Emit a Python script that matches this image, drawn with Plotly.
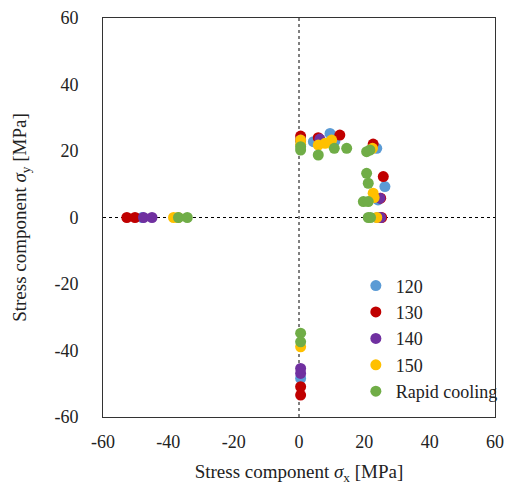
import plotly.graph_objects as go

series_names = ["120", "130", "140", "150", "Rapid cooling"]
colors = ["#5B9BD5", "#C00000", "#7030A0", "#FFC000", "#70AD47"]

x_120 = [-48.0, 0.5, 0.5, 4.4, 9.5, 11.0, 23.8, 26.3, 24.2, 24.0]
y_120 = [0.0, -48.4, 23.0, 22.8, 25.3, 23.0, 20.8, 9.3, 5.3, 0.0]

x_130 = [-52.7, -50.2, 0.5, 0.5, 0.5, 5.9, 12.5, 22.7, 25.8, 25.0, 25.3]
y_130 = [0.0, 0.0, -50.9, -53.4, 24.5, 24.0, 24.8, 22.1, 12.3, 5.8, 0.0]

x_140 = [-47.6, -45.0, 0.5, 0.5, 0.5, 6.4, 24.8, 25.0]
y_140 = [0.0, 0.0, -45.4, -46.9, 23.3, 23.6, 5.8, 0.0]

x_150 = [-38.4, -37.0, 0.5, 0.5, 0.5, 5.9, 8.0, 10.0, 22.5, 22.7, 23.0, 23.8]
y_150 = [0.0, 0.0, -38.9, 23.3, 22.0, 21.8, 22.3, 23.3, 20.8, 7.3, 6.0, 0.0]

x_rc = [-36.9, -34.2, 0.5, 0.5, 0.5, 0.5, 5.9, 10.8, 14.6, 20.7, 21.7, 20.7, 21.2, 19.7, 21.2, 21.2, 21.9]
y_rc = [0.0, 0.0, -34.8, -37.4, 21.3, 20.3, 18.8, 20.8, 20.8, 19.8, 20.3, 13.3, 10.3, 4.8, 4.8, 0.0, 0.0]

xs = [x_120, x_130, x_140, x_150, x_rc]
ys = [y_120, y_130, y_140, y_150, y_rc]

tick_vals = [-60, -40, -20, 0, 20, 40, 60]
tick_text = ["-60", "-40", "-20", "0", "20", "40", "60"]

FONT = "Liberation Serif, Times New Roman, serif"

fig = go.Figure()
for name, c, x, y in zip(series_names, colors, xs, ys):
    fig.add_trace(go.Scatter(x=x, y=y, mode="markers", name=name,
                             marker=dict(color=c, size=11, line=dict(width=0))))

fig.add_shape(type="line", x0=0, x1=0, y0=-60, y1=60, xref="x", yref="y",
              line=dict(color="black", width=1, dash="dot"), layer="below")
fig.add_shape(type="line", x0=-60, x1=60, y0=0, y1=0, xref="x", yref="y",
              line=dict(color="black", width=1, dash="dot"), layer="below")

axis_common = dict(range=[-60, 60], tickvals=tick_vals, ticktext=tick_text,
                   showgrid=False, zeroline=False, automargin=False,
                   showline=True, mirror=True, linecolor="#333333", linewidth=1,
                   ticks="", tickfont=dict(family=FONT, size=18, color="#222"))

fig.update_xaxes(**axis_common, ticklabelstandoff=8,
                 title=dict(text="Stress component <i>σ</i><sub>x</sub> [MPa]",
                            font=dict(family=FONT, size=19, color="#222"), standoff=14))
fig.update_yaxes(**axis_common, ticklabelstandoff=20,
                 title=dict(text="Stress component <i>σ</i><sub>y</sub> [MPa]",
                            font=dict(family=FONT, size=19, color="#222"), standoff=22))

fig.update_layout(
    width=505, height=488,
    margin=dict(l=103, r=10, t=18, b=71, autoexpand=False),
    paper_bgcolor="white", plot_bgcolor="white",
    showlegend=True,
    legend=dict(x=0.645, y=0.375, xanchor="left", yanchor="top",
                font=dict(family=FONT, size=18, color="#222"),
                bgcolor="rgba(255,255,255,0)", itemwidth=30, tracegroupgap=0),
)

fig.write_html("out.html")
